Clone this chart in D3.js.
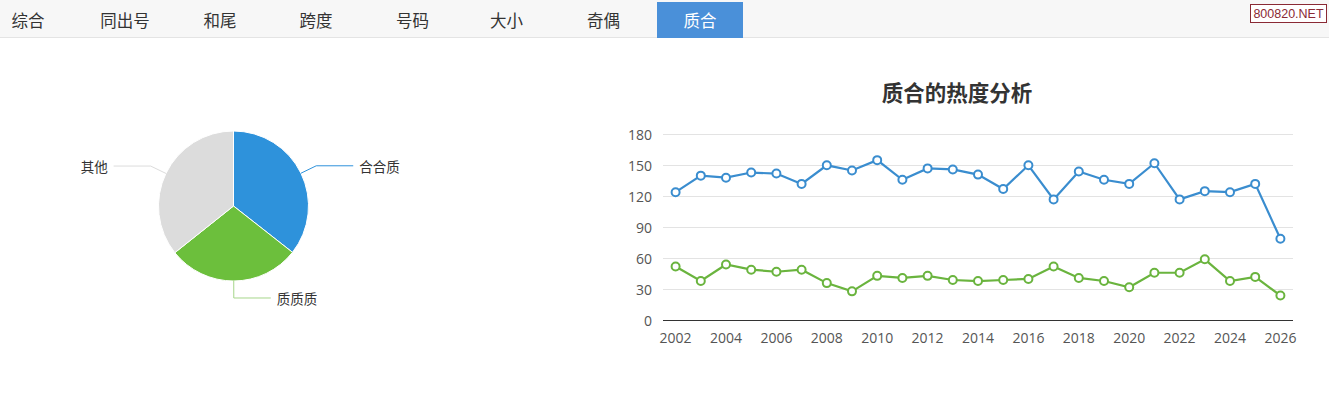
<!DOCTYPE html>
<html><head><meta charset="utf-8">
<script src="https://cdn.jsdelivr.net/npm/d3@7/dist/d3.min.js"></script>
<style>
html,body{margin:0;padding:0;background:#fff;}
svg{display:block;}
</style></head>
<body>
<svg id="c" width="1329" height="416"></svg>
<script>
const tabs = ["综合","同出号","和尾","跨度","号码","大小","奇偶","质合"];
const activeTab = "质合";
const pieNames = ["合合质","质质质","其他"];
const pieValues = [35.6, 28.7, 35.7];
const years = ["2002","2003","2004","2005","2006","2007","2008","2009","2010","2011","2012","2013","2014","2015","2016","2017","2018","2019","2020","2021","2022","2023","2024","2025","2026"];
const seriesHeHeZhi = [124,140,138,143,142,132,150,145,155,136,147,146,141,127,150,117,144,136,132,152,117,125,124,132,79];
const seriesZhiZhiZhi = [52,38,54,49,47,49,36,28,43,41,43,39,38,39,40,52,41,38,32,46,46,59,38,42,24];
const yTicks = [0,30,60,90,120,150,180];
const chartTitle = "质合的热度分析";

const svg = d3.select("#c");
const cjk = "'Noto Sans CJK SC','Noto Sans',sans-serif";
const num = "'Open Sans','Noto Sans',sans-serif";

// tab bar
svg.append("rect").attr("x",0).attr("y",0).attr("width",1329).attr("height",37).attr("fill","#f7f7f7");
svg.append("line").attr("x1",0).attr("x2",1329).attr("y1",37.5).attr("y2",37.5).attr("stroke","#e4e4e4");
const tabCenters = [28,125,220,316,412.5,506.5,603.5,700];
tabs.forEach((t,i)=>{
  const active = t===activeTab;
  if(active){
    svg.append("rect").attr("x",657).attr("y",2).attr("width",86).attr("height",36).attr("fill","#4a90d9");
  }
  svg.append("text").attr("x",tabCenters[i]).attr("y",19.5).attr("text-anchor","middle")
    .attr("dominant-baseline","central").attr("font-family",cjk).attr("font-size",16.5)
    .attr("fill",active?"#fff":"#333").text(t);
});
// watermark
svg.append("rect").attr("x",1250.5).attr("y",4.5).attr("width",76).attr("height",18).attr("fill","#fff").attr("stroke","#8a2a35");
svg.append("text").attr("x",1288.5).attr("y",14).attr("text-anchor","middle").attr("dominant-baseline","central")
  .attr("font-family","'Liberation Sans',sans-serif").attr("font-size",12.5).attr("fill","#8a2a35").text("800820.NET");

// pie
const pieColors = ["#2e92db","#6cbf3c","#dcdcdc"];
const lineColors = ["#2e92db","#a6d68a","#dcdcdc"];
const cx = 233.5, cy = 206, R = 75;
const pieGen = d3.pie().sort(null).value(d=>d);
const arcs = pieGen(pieValues);
const arc = d3.arc().innerRadius(0).outerRadius(R);
const pg = svg.append("g").attr("transform",`translate(${cx},${cy})`);
pg.selectAll("path").data(arcs).join("path").attr("d",arc).attr("fill",(d,i)=>pieColors[i])
  .attr("stroke","#fff").attr("stroke-width",1);
arcs.forEach((a,i)=>{
  const m = (a.startAngle+a.endAngle)/2;
  const sx = Math.sin(m), sy = -Math.cos(m);
  const p1 = [R*sx, R*sy], p2 = [(R+17)*sx, (R+17)*sy];
  const dir = sx>=0?1:-1;
  const p3 = [p2[0]+dir*37, p2[1]];
  pg.append("polyline").attr("points",[p1,p2,p3].map(p=>p.join(",")).join(" "))
    .attr("fill","none").attr("stroke",lineColors[i]).attr("stroke-width",1);
  pg.append("text").attr("x",p3[0]+dir*6).attr("y",p3[1]).attr("text-anchor",dir>0?"start":"end")
    .attr("dominant-baseline","central").attr("font-family",cjk).attr("font-size",13.5).attr("fill","#333")
    .text(pieNames[i]);
});

// line chart
svg.append("text").attr("x",957).attr("y",91).attr("text-anchor","middle").attr("dominant-baseline","central")
  .attr("font-family",cjk).attr("font-weight","bold").attr("font-size",21.5).attr("fill","#333").text(chartTitle);
const x = d3.scaleBand().domain(years).range([663,1293]);
const y = d3.scaleLinear().domain([0,180]).range([320.3,134.3]);
const g = svg.append("g");
yTicks.forEach(t=>{
  if(t>0) g.append("line").attr("x1",663).attr("x2",1293).attr("y1",Math.round(y(t))+0.5).attr("y2",Math.round(y(t))+0.5).attr("stroke","#e3e3e3");
  g.append("text").attr("x",652).attr("y",y(t)).attr("text-anchor","end").attr("dominant-baseline","central")
    .attr("font-family",num).attr("font-size",14).attr("fill","#555").text(t);
});
g.append("line").attr("x1",663).attr("x2",1293).attr("y1",320.5).attr("y2",320.5).attr("stroke","#333");
years.forEach((yr,i)=>{
  if(i%2===0) g.append("text").attr("x",x(yr)+x.bandwidth()/2).attr("y",337).attr("text-anchor","middle")
    .attr("dominant-baseline","central").attr("font-family",num).attr("font-size",14).attr("fill","#555").text(yr);
});
const series = [{v:seriesHeHeZhi,c:"#3a8dcf"},{v:seriesZhiZhiZhi,c:"#6ab43e"}];
const line = d3.line().x((d,i)=>x(years[i])+x.bandwidth()/2).y(d=>y(d));
series.forEach(s=>{
  g.append("path").attr("d",line(s.v)).attr("fill","none").attr("stroke",s.c).attr("stroke-width",2.2);
  g.selectAll(null).data(s.v).join("circle").attr("cx",(d,i)=>x(years[i])+x.bandwidth()/2).attr("cy",d=>y(d))
    .attr("r",4).attr("fill","#fff").attr("stroke",s.c).attr("stroke-width",2);
});
</script>
</body></html>
